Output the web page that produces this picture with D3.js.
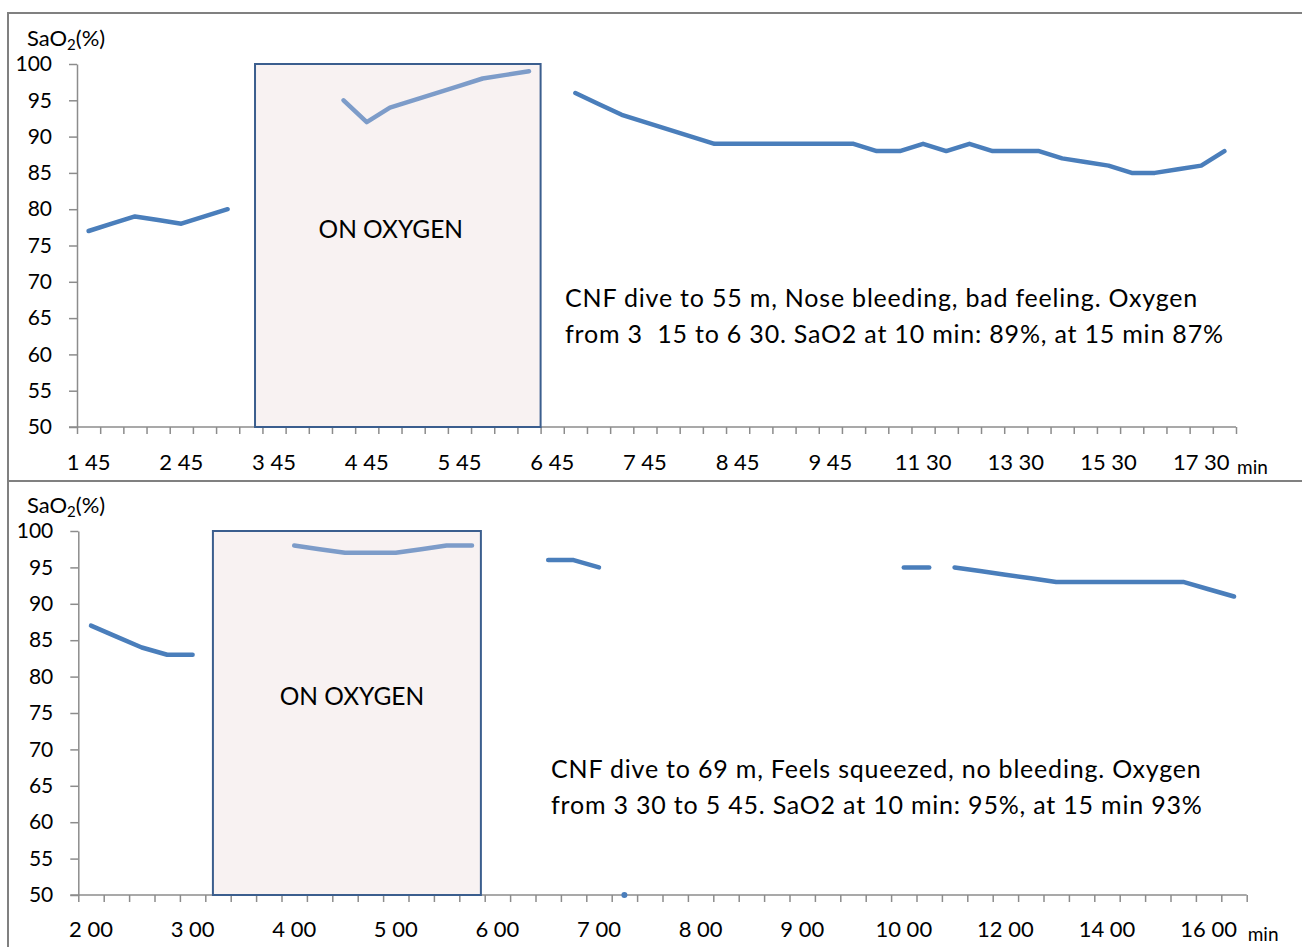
<!DOCTYPE html>
<html>
<head>
<meta charset="utf-8">
<script src="https://cdn.jsdelivr.net/npm/d3@7"></script>
<style>
body { margin: 0; background: #fff; }
svg text { font-family: Lato, "Open Sans", sans-serif; fill: #000; }
</style>
</head>
<body>
<svg id="chart" width="1302" height="947"></svg>
<script>
// ---- data ----
var yTicks = [50, 55, 60, 65, 70, 75, 80, 85, 90, 95, 100];

// dive to 55 m, categories on the time axis (min sec)
var topTimes = ['1 45', '2 00', '2 15', '2 30', '2 45', '3 00', '3 15', '3 30', '3 45', '4 00',
    '4 15', '4 30', '4 45', '5 00', '5 15', '5 30', '5 45', '6 00', '6 15', '6 30',
    '6 45', '7 00', '7 15', '7 30', '7 45', '8 00', '8 15', '8 30', '8 45', '9 00',
    '9 15', '9 30', '9 45', '10 00', '10 30', '11 00', '11 30', '12 00', '12 30', '13 00',
    '13 30', '14 00', '14 30', '15 00', '15 30', '16 00', '16 30', '17 00', '17 30', '18 00'];

var topBefore = [['1 45', 77], ['2 00', 78], ['2 15', 79], ['2 30', 78.5], ['2 45', 78],
    ['3 00', 79], ['3 15', 80]];
var topOxygen = [['4 30', 95], ['4 45', 92], ['5 00', 94], ['5 15', 95], ['5 30', 96],
    ['5 45', 97], ['6 00', 98], ['6 15', 98.5], ['6 30', 99]];
var topAfter = [['7 00', 96], ['7 15', 94.5], ['7 30', 93], ['7 45', 92], ['8 00', 91],
    ['8 15', 90], ['8 30', 89], ['8 45', 89], ['9 00', 89], ['9 15', 89], ['9 30', 89],
    ['9 45', 89], ['10 00', 89], ['10 30', 88], ['11 00', 88], ['11 30', 89], ['12 00', 88],
    ['12 30', 89], ['13 00', 88], ['13 30', 88], ['14 00', 88], ['14 30', 87], ['15 00', 86.5],
    ['15 30', 86], ['16 00', 85], ['16 30', 85], ['17 00', 85.5], ['17 30', 86], ['18 00', 88]];

// dive to 69 m
var botTimes = ['2 00', '2 15', '2 30', '2 45', '3 00', '3 15', '3 30', '3 45', '4 00', '4 15',
    '4 30', '4 45', '5 00', '5 15', '5 30', '5 45', '6 00', '6 15', '6 30', '6 45',
    '7 00', '7 15', '7 30', '7 45', '8 00', '8 15', '8 30', '8 45', '9 00', '9 15',
    '9 30', '9 45', '10 00', '10 30', '11 00', '11 30', '12 00', '12 30', '13 00', '13 30',
    '14 00', '14 30', '15 00', '15 30', '16 00', '16 30'];

var botBefore = [['2 00', 87], ['2 15', 85.5], ['2 30', 84], ['2 45', 83], ['3 00', 83]];
var botOxygen = [['4 00', 98], ['4 15', 97.5], ['4 30', 97], ['4 45', 97], ['5 00', 97],
    ['5 15', 97.5], ['5 30', 98], ['5 45', 98]];
var botAfter1 = [['6 30', 96], ['6 45', 96], ['7 00', 95]];
var botAfter2 = [['7 15', 50]];
var botAfter3 = [['10 00', 95], ['10 30', 95]];
var botAfter4 = [['11 00', 95], ['11 30', 94.5], ['12 00', 94], ['12 30', 93.5], ['13 00', 93],
    ['13 30', 93], ['14 00', 93], ['14 30', 93], ['15 00', 93], ['15 30', 93], ['16 00', 92],
    ['16 30', 91]];

var topNote = ['CNF dive to 55 m, Nose bleeding, bad feeling. Oxygen',
    'from 3  15 to 6 30. SaO2 at 10 min: 89%, at 15 min 87%'];
var botNote = ['CNF dive to 69 m, Feels squeezed, no bleeding. Oxygen',
    'from 3 30 to 5 45. SaO2 at 10 min: 95%, at 15 min 93%'];

// ---- drawing ----
var svg = d3.select('#chart');
var lineBlue = '#4a7ebb',
    oxyBlue = '#7d9cc9',
    axisGrey = '#8c8c8c';

// panel frames
svg.append('rect').attr('x', 8).attr('y', 13).attr('width', 1310).attr('height', 468)
    .attr('fill', 'none').attr('stroke', '#808080').attr('stroke-width', 2);
svg.append('rect').attr('x', 8).attr('y', 481).attr('width', 1310).attr('height', 480)
    .attr('fill', 'none').attr('stroke', '#808080').attr('stroke-width', 2);

function drawPanel(p) {
    var n = p.times.length;
    var xi = d3.scaleLinear().domain([0, n]).range([p.left, p.right]);
    var x = d3.scaleBand().domain(p.times).range([p.left, p.right]);
    var y = d3.scaleLinear().domain([50, 100]).range([p.bottom, p.top]);
    var g = svg.append('g');

    // y axis
    var ya = g.append('g')
        .attr('transform', 'translate(' + p.left + ',0)')
        .call(d3.axisLeft(y).tickValues(yTicks).tickSize(8).tickSizeOuter(0).tickPadding(17));
    ya.selectAll('path,line').attr('stroke', axisGrey).attr('stroke-width', 1.5);
    ya.selectAll('text').attr('font-size', 21).attr('fill', '#000');

    // x axis: tick marks on category edges
    var xa = g.append('g')
        .attr('transform', 'translate(0,' + p.bottom + ')')
        .call(d3.axisBottom(xi).tickValues(d3.range(n + 1)).tickSize(7)
            .tickSizeOuter(0).tickFormat(''));
    xa.select('.domain').attr('d', 'M' + (p.left - 8) + ',0H' + p.right);
    xa.selectAll('path,line').attr('stroke', axisGrey).attr('stroke-width', 1.5);

    // x labels: every 4th category
    var xl = g.append('g')
        .attr('transform', 'translate(0,' + p.bottom + ')')
        .call(d3.axisBottom(x).tickValues(p.times.filter(function(t, i) { return i % 4 === 0; }))
            .tickSize(0));
    xl.select('.domain').remove();
    xl.selectAll('text').attr('y', p.labelDy).attr('dy', 0).attr('font-size', 22)
        .attr('fill', '#000');

    g.append('text').attr('x', p.right + 1).attr('y', p.bottom + p.labelDy + 4)
        .attr('font-size', 19).text('min');

    // y title
    var t = g.append('text').attr('x', 27).attr('y', p.top - 18).attr('font-size', 22);
    t.append('tspan').text('SaO');
    t.append('tspan').attr('font-size', 15).attr('dy', 4).text('2');
    t.append('tspan').attr('dy', -4).text('(%)');

    // oxygen box
    var bx0 = xi(p.box[0]), bx1 = xi(p.box[1]);
    g.append('rect')
        .attr('x', bx0).attr('y', y(100))
        .attr('width', bx1 - bx0).attr('height', y(50) - y(100))
        .attr('fill', '#f8f2f2').attr('stroke', '#3b5e8e').attr('stroke-width', 2);
    g.append('text').attr('x', (bx0 + bx1) / 2 + p.boxTextDx).attr('y', p.boxTextY)
        .attr('text-anchor', 'middle').attr('font-size', 24.5).text('ON OXYGEN');

    // series
    var line = d3.line()
        .x(function(d) { return x(d[0]) + x.bandwidth() / 2; })
        .y(function(d) { return y(d[1]); });
    p.series.forEach(function(s) {
        if (s.data.length === 1) {
            g.append('circle')
                .attr('cx', x(s.data[0][0]) + x.bandwidth() / 2)
                .attr('cy', y(s.data[0][1]))
                .attr('r', 3).attr('fill', s.color);
        } else {
            g.append('path').datum(s.data)
                .attr('d', line)
                .attr('fill', 'none').attr('stroke', s.color).attr('stroke-width', 4.5)
                .attr('stroke-linecap', 'round').attr('stroke-linejoin', 'round');
        }
    });

    // note
    var note = g.append('text').attr('font-size', 25).attr('letter-spacing', 0.8)
        .style('white-space', 'pre');
    p.note.forEach(function(s, i) {
        note.append('tspan').attr('x', p.noteX).attr('y', p.noteY + i * 36).text(s);
    });
}

drawPanel({
    times: topTimes, left: 77, right: 1236, top: 64, bottom: 427, labelDy: 43,
    box: [7.68, 20], boxTextDx: -7, boxTextY: 238,
    series: [
        { data: topBefore, color: lineBlue },
        { data: topOxygen, color: oxyBlue },
        { data: topAfter, color: lineBlue }
    ],
    note: topNote, noteX: 565, noteY: 307
});

drawPanel({
    times: botTimes, left: 78.3, right: 1246.7, top: 531, bottom: 895, labelDy: 42,
    box: [5.3, 15.85], boxTextDx: 5, boxTextY: 705,
    series: [
        { data: botBefore, color: lineBlue },
        { data: botOxygen, color: oxyBlue },
        { data: botAfter1, color: lineBlue },
        { data: botAfter2, color: lineBlue },
        { data: botAfter3, color: lineBlue },
        { data: botAfter4, color: lineBlue }
    ],
    note: botNote, noteX: 551, noteY: 778
});
</script>
</body>
</html>
